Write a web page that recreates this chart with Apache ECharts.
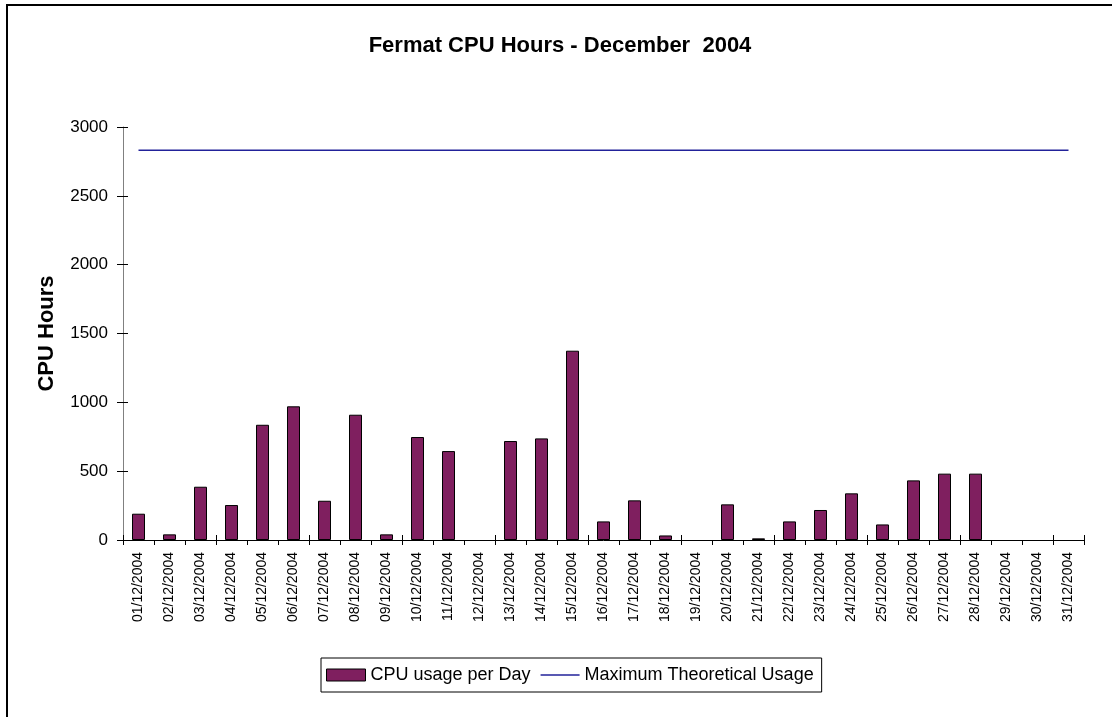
<!DOCTYPE html>
<html>
<head>
<meta charset="utf-8">
<script src="https://cdn.jsdelivr.net/npm/echarts@6/dist/echarts.min.js"></script>
<style>
html,body{margin:0;padding:0;background:#fff;}
#chart{width:1112px;height:717px;}
</style>
</head>
<body>
<div id="chart"></div>
<script>
const days = ["01/12/2004","02/12/2004","03/12/2004","04/12/2004","05/12/2004","06/12/2004","07/12/2004","08/12/2004","09/12/2004","10/12/2004","11/12/2004","12/12/2004","13/12/2004","14/12/2004","15/12/2004","16/12/2004","17/12/2004","18/12/2004","19/12/2004","20/12/2004","21/12/2004","22/12/2004","23/12/2004","24/12/2004","25/12/2004","26/12/2004","27/12/2004","28/12/2004","29/12/2004","30/12/2004","31/12/2004"];
const cpuUsage = [191, 41, 387, 254, 837, 971, 285, 910, 41, 748, 646, 0, 719, 738, 1375, 135, 288, 33, 0, 259, 12, 135, 218, 339, 113, 433, 482, 482, 0, 0, 0];
const maxUsage = [2832, 2832, 2832, 2832, 2832, 2832, 2832, 2832, 2832, 2832, 2832, 2832, 2832, 2832, 2832, 2832, 2832, 2832, 2832, 2832, 2832, 2832, 2832, 2832, 2832, 2832, 2832, 2832, 2832, 2832, 2832];
const yTicks = {min: 0, max: 3000, interval: 500};

const font = 'Liberation Sans, Arial, sans-serif';
const barColor = '#7F1F5F';
const lineColor = '#22229A';
const chart = echarts.init(document.getElementById('chart'), null, {renderer: 'canvas'});
chart.setOption({
  backgroundColor: '#fff',
  animation: false,
  graphic: [{
    type: 'rect', shape: {x: 7, y: 5, width: 1200, height: 800},
    style: {fill: null, stroke: '#000', lineWidth: 2}, silent: true, z: -1
  }],
  title: {
    text: 'Fermat CPU Hours - December  2004',
    left: 560, top: 35, textAlign: 'center', padding: 0,
    textStyle: {fontFamily: font, fontSize: 22, fontWeight: 'bold', color: '#000'}
  },
  legend: {
    left: 321, top: 658,
    padding: [8, 8, 8, 5],
    itemWidth: 39, itemHeight: 12, itemGap: 10,
    symbolKeepAspect: true,
    borderColor: '#000', borderWidth: 1, backgroundColor: '#fff',
    textStyle: {fontFamily: font, fontSize: 18, color: '#000'},
    data: [
      {name: 'CPU usage per Day', icon: 'rect', itemStyle: {color: barColor, borderColor: '#000', borderWidth: 1}},
      {name: 'Maximum Theoretical Usage', icon: 'path://M0,0L40,0L40,1.5L0,1.5Z', itemStyle: {color: lineColor, borderWidth: 0}}
    ]
  },
  grid: {left: 123, right: 28, top: 127, bottom: 177, containLabel: false},
  xAxis: [{
    type: 'category', data: days, position: 'bottom',
    axisLine: {show: true, lineStyle: {color: '#000', width: 1}},
    axisTick: {show: true, length: 5, lineStyle: {color: '#000'}},
    axisLabel: {rotate: 90, margin: 12, fontFamily: font, fontSize: 14, color: '#000', interval: 0},
    splitLine: {show: false}
  }, {
    type: 'category', data: days, position: 'bottom',
    axisLine: {show: false},
    axisTick: {show: true, inside: true, length: 5, lineStyle: {color: '#000'}},
    axisLabel: {show: false},
    splitLine: {show: false}
  }],
  yAxis: [{
    type: 'value', min: yTicks.min, max: yTicks.max, interval: yTicks.interval,
    name: 'CPU Hours', nameLocation: 'middle', nameGap: 65, nameRotate: 90,
    nameTextStyle: {fontFamily: font, fontSize: 22, fontWeight: 'bold', color: '#000'},
    axisLine: {show: true, lineStyle: {color: '#808080', width: 1}},
    axisTick: {show: true, length: 6, lineStyle: {color: '#000'}},
    axisLabel: {margin: 15, fontFamily: font, fontSize: 17, color: '#000', formatter: v => String(v)},
    splitLine: {show: false}
  }, {
    type: 'value', min: yTicks.min, max: yTicks.max, interval: yTicks.interval, position: 'left',
    axisLine: {show: false},
    axisTick: {show: true, inside: true, length: 5, lineStyle: {color: '#000'}},
    axisLabel: {show: false},
    splitLine: {show: false}
  }],
  series: [{
    name: 'CPU usage per Day', type: 'bar',
    data: cpuUsage.map(v => v === 0 ? {value: v, itemStyle: {borderWidth: 0, opacity: 0}} : v),
    xAxisIndex: 0, yAxisIndex: 0,
    barWidth: 13,
    itemStyle: {color: barColor, borderColor: '#000', borderWidth: 1}
  }, {
    name: 'Maximum Theoretical Usage', type: 'line', data: maxUsage,
    xAxisIndex: 0, yAxisIndex: 0,
    symbol: 'none', showSymbol: false,
    lineStyle: {color: lineColor, width: 1.5},
    itemStyle: {color: lineColor}
  }]
});
</script>
</body>
</html>
